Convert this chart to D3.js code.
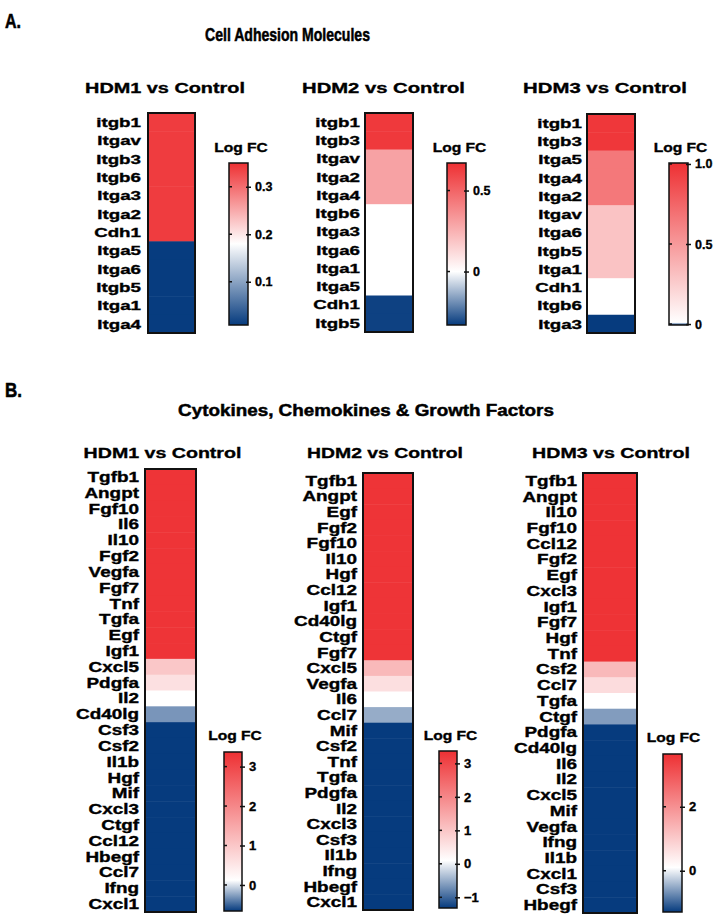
<!DOCTYPE html>
<html><head><meta charset="utf-8">
<script src="https://cdn.jsdelivr.net/npm/d3@7"></script>
<style>body{margin:0;background:#fff}svg{display:block}text{font-family:"Liberation Sans",Arial,Helvetica,sans-serif;font-weight:bold;fill:#000;stroke:#000;stroke-width:0.35px}</style>
</head><body><svg id="c" width="728" height="923"></svg>
<script>
// ---------- DATA ----------
const aGenes1 = ["itgb1","Itgav","Itgb3","Itgb6","Itga3","Itga2","Cdh1","Itga5","Itga6","Itgb5","Itga1","Itga4"];
const aLogFC1 = [0.34,0.34,0.34,0.34,0.34,0.34,0.34,0.01,0.01,0.01,0.01,0.01];
const aScale1 = [0.009, 0.18, 0.35];
const aTicks1 = [0.1, 0.2, 0.3];

const aGenes2 = ["itgb1","Itgb3","Itgav","Itga2","Itga4","Itgb6","Itga3","Itga6","Itga1","Itga5","Cdh1","Itgb5"];
const aLogFC2 = [0.64,0.64,0.3,0.3,0.3,0.0,0.0,0.0,0.0,0.0,-0.32,-0.32];
const aScale2 = [-0.33, 0.0, 0.67];
const aTicks2 = [0, 0.5];

const aGenes3 = ["itgb1","Itgb3","Itga5","Itga4","Itga2","Itgav","Itga6","Itgb5","Itga1","Cdh1","Itgb6","Itga3"];
const aLogFC3 = [0.97,0.97,0.66,0.66,0.66,0.3,0.3,0.3,0.3,0.012,0.012,-0.006];
const aScale3 = [-0.006, 0.01, 1.006];
const aTicks3 = [0, 0.5, 1.0];

const bGenes1 = ["Tgfb1","Angpt","Fgf10","Il6","Il10","Fgf2","Vegfa","Fgf7","Tnf","Tgfa","Egf","Igf1","Cxcl5","Pdgfa","Il2","Cd40lg","Csf3","Csf2","Il1b","Hgf","Mif","Cxcl3","Ctgf","Ccl12","Hbegf","Ccl7","Ifng","Cxcl1"];
const bLogFC1 = [3.3,3.3,3.3,3.3,3.3,3.3,3.3,3.3,3.3,3.3,3.3,3.3,1.0,0.6,0.12,-0.3,-0.66,-0.66,-0.66,-0.66,-0.66,-0.66,-0.66,-0.66,-0.66,-0.66,-0.66,-0.66];
const bScale1 = [-0.66, 0.12, 3.37];
const bTicks1 = [0, 1, 2, 3];

const bGenes2 = ["Tgfb1","Angpt","Egf","Fgf2","Fgf10","Il10","Hgf","Ccl12","Igf1","Cd40lg","Ctgf","Fgf7","Cxcl5","Vegfa","Il6","Ccl7","Mif","Csf2","Tnf","Tgfa","Pdgfa","Il2","Cxcl3","Csf3","Il1b","Ifng","Hbegf","Cxcl1"];
const bLogFC2 = [3.3,3.3,3.3,3.3,3.3,3.3,3.3,3.3,3.3,3.3,3.3,3.3,1.2,0.6,0.1,-0.5,-1.32,-1.32,-1.32,-1.32,-1.32,-1.32,-1.32,-1.32,-1.32,-1.32,-1.32,-1.32];
const bScale2 = [-1.32, 0.1, 3.37];
const bTicks2 = [-1, 0, 1, 2, 3];

const bGenes3 = ["Tgfb1","Angpt","Il10","Fgf10","Ccl12","Fgf2","Egf","Cxcl3","Igf1","Fgf7","Hgf","Tnf","Csf2","Ccl7","Tgfa","Ctgf","Pdgfa","Cd40lg","Il6","Il2","Cxcl5","Mif","Vegfa","Ifng","Il1b","Cxcl1","Csf3","Hbegf"];
const bLogFC3 = [3.6,3.6,3.6,3.6,3.6,3.6,3.6,3.6,3.6,3.6,3.6,3.6,1.3,0.7,0.1,-0.6,-1.29,-1.29,-1.29,-1.29,-1.29,-1.29,-1.29,-1.29,-1.29,-1.29,-1.29,-1.29];
const bScale3 = [-1.29, 0.1, 3.65];
const bTicks3 = [0, 2];

const titles = ["HDM1 vs Control","HDM2 vs Control","HDM3 vs Control"];
const sectionTitles = ["Cell Adhesion Molecules","Cytokines, Chemokines & Growth Factors"];
const legendTitle = "Log FC";

// ---------- LAYOUT ----------
const RED = "#EE3033", WHITE = "#FFFFFF", BLUE = "#063B7E";
const panels = [
  {genes:aGenes1, vals:aLogFC1, sc:aScale1, ticks:aTicks1, title:titles[0], tx:165, ty:93, tw:160, box:[148,195,113,333], lx:141, cb:[229,248,163,325], lgx:241, lgy:152, fs:13.5, sx:1.39, tfs:12.5, dec:true},
  {genes:aGenes2, vals:aLogFC2, sc:aScale2, ticks:aTicks2, title:titles[1], tx:383.5, ty:93, tw:163, box:[365,413,113,332], lx:360, cb:[447,466,163,325], lgx:459.5, lgy:152, fs:13.5, sx:1.39, tfs:12.5, dec:true},
  {genes:aGenes3, vals:aLogFC3, sc:aScale3, ticks:aTicks3, title:titles[2], tx:605, ty:93, tw:164, box:[587,635,114,333], lx:582, cb:[669,688,163,325], lgx:680.5, lgy:152, fs:13.5, sx:1.39, tfs:12.5, dec:true},
  {genes:bGenes1, vals:bLogFC1, sc:bScale1, ticks:bTicks1, title:titles[0], tx:162.5, ty:458, tw:158, box:[145,196,469,912], lx:139, cb:[224,242,752,911], lgx:235, lgy:740, fs:14, sx:1.35, tfs:13, dec:false},
  {genes:bGenes2, vals:bLogFC2, sc:bScale2, ticks:bTicks2, title:titles[1], tx:385, ty:458, tw:156, box:[363,413,473,910], lx:357, cb:[439,457,751,908], lgx:450.5, lgy:740, fs:14, sx:1.35, tfs:13, dec:false},
  {genes:bGenes3, vals:bLogFC3, sc:bScale3, ticks:bTicks3, title:titles[2], tx:611, ty:458, tw:158, box:[583,637,473,913], lx:577, cb:[663,682,754,912], lgx:673.5, lgy:742, fs:14, sx:1.35, tfs:13, dec:false}
];

const svg = d3.select("#c");
const defs = svg.append("defs");

function stext(x, y, str, size, sx, anchor) {
  return svg.append("text")
    .attr("transform", `translate(${x},${y}) scale(${sx},1)`)
    .attr("text-anchor", anchor).style("font-size", size + "px").text(str);
}
function fittext(x, y, str, size, len, anchor) {
  const t = svg.append("text").attr("text-anchor", anchor).style("font-size", size + "px").text(str);
  const w = t.node().getComputedTextLength() || len;
  t.attr("transform", `translate(${x},${y}) scale(${len / w},1)`);
  return t;
}

// panel letters and section titles
fittext(5, 28, "A.", 21, 16, "start").style("stroke-width", "0.6px");
fittext(287.5, 41, sectionTitles[0], 17.5, 165, "middle").style("stroke-width", "0.5px");
fittext(5, 397, "B.", 21, 17, "start").style("stroke-width", "0.6px");
fittext(366, 416, sectionTitles[1], 17, 376, "middle").style("stroke-width", "0.5px");

panels.forEach((p, i) => {
  const color = d3.scaleLinear().domain(p.sc).range([BLUE, WHITE, RED]).interpolate(d3.interpolateRgb).clamp(true);
  fittext(p.tx, p.ty, p.title, 15.5, p.tw, "middle");
  const [x0, x1, y0, y1] = p.box;
  const yb = d3.scaleBand().domain(p.genes).range([y0, y1]);
  svg.append("g").selectAll("rect").data(p.genes).join("rect")
    .attr("x", x0).attr("width", x1 - x0)
    .attr("y", d => yb(d)).attr("height", yb.bandwidth() + 0.5)
    .attr("fill", (d, j) => color(p.vals[j]));
  svg.append("rect").attr("x", x0).attr("y", y0).attr("width", x1 - x0).attr("height", y1 - y0)
    .attr("fill", "none").attr("stroke", "#111").attr("stroke-width", 2);
  p.genes.forEach(g => {
    stext(p.lx, yb(g) + yb.bandwidth() / 2 + p.fs * 0.36, g, p.fs, p.sx, "end");
  });
  const [c0, c1, cy0, cy1] = p.cb;
  const gid = "grad" + i;
  const grad = defs.append("linearGradient").attr("id", gid).attr("x1", 0).attr("y1", 1).attr("x2", 0).attr("y2", 0);
  const span = p.sc[2] - p.sc[0];
  grad.append("stop").attr("offset", 0).attr("stop-color", BLUE);
  grad.append("stop").attr("offset", (p.sc[1] - p.sc[0]) / span).attr("stop-color", WHITE);
  grad.append("stop").attr("offset", 1).attr("stop-color", RED);
  svg.append("rect").attr("x", c0).attr("y", cy0).attr("width", c1 - c0).attr("height", cy1 - cy0)
    .attr("fill", `url(#${gid})`).attr("stroke", "#111").attr("stroke-width", 1.5);
  const yc = d3.scaleLinear().domain([p.sc[0], p.sc[2]]).range([cy1, cy0]);
  const ax = svg.append("g").attr("transform", `translate(${c1},0)`)
    .call(d3.axisRight(yc).tickValues(p.ticks).tickSizeInner(3).tickSizeOuter(0).tickPadding(4)
      .tickFormat(d => d === 0 ? "0" : (p.dec ? d3.format(".1f")(d) : d3.format("d")(d))));
  ax.select(".domain").remove();
  ax.selectAll(".tick line").attr("x1", -2).attr("stroke", "#111").attr("stroke-width", 1.5);
  ax.selectAll(".tick text").style("font-size", p.tfs + "px").style("font-family", '"Liberation Sans",Arial,sans-serif').style("font-weight", "bold").attr("fill", "#000").attr("stroke", "#000").attr("stroke-width", 0.35);
  svg.append("g").selectAll("line").data(p.ticks).join("line")
    .attr("x1", c0).attr("x2", c0 + 3).attr("y1", d => yc(d)).attr("y2", d => yc(d))
    .attr("stroke", "#111").attr("stroke-width", 1.5);
  stext(p.lgx, p.lgy, legendTitle, 13, 1.2, "middle");
});
</script></body></html>
